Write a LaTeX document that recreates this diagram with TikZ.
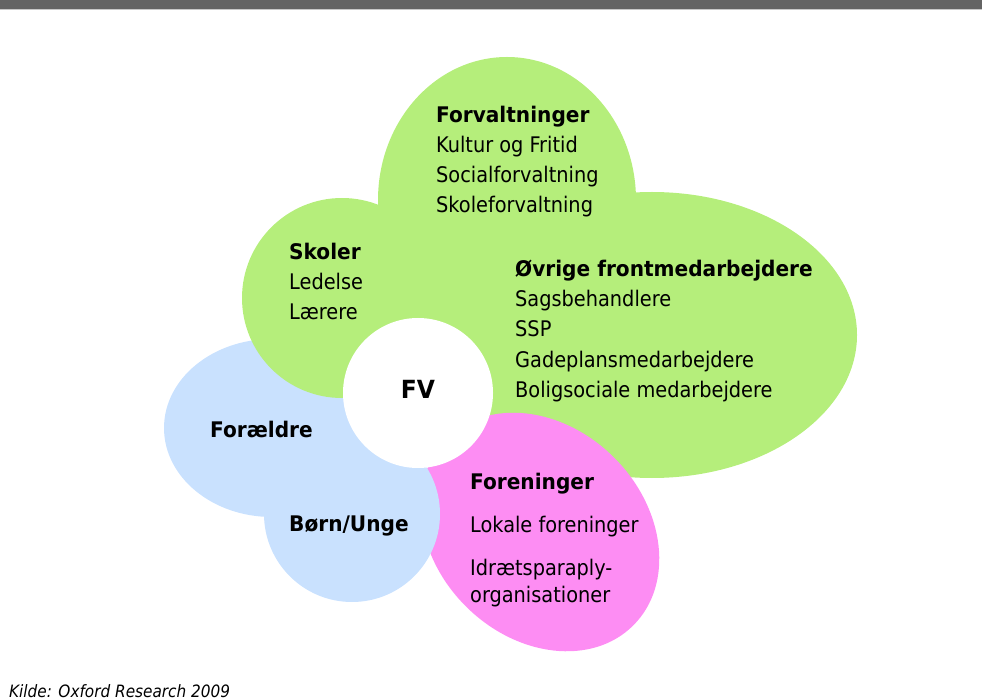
\documentclass[tikz,border=0pt]{standalone}
\usepackage{fontspec}
\setmainfont{DejaVuSansCondensed}[Extension=.ttf,
  BoldFont=DejaVuSansCondensed-Bold,
  BoldFeatures={FakeStretch=1.04},
  ItalicFont=DejaVuSansCondensed-Oblique,
  BoldItalicFont=DejaVuSansCondensed-BoldOblique]
\definecolor{leafgreen}{HTML}{B5EE7B}
\definecolor{skyblue}{HTML}{C9E1FE}
\definecolor{rosepink}{HTML}{FD8DF3}
\definecolor{bargray}{HTML}{646464}
\definecolor{rulegray}{HTML}{C8C8C8}
\tikzset{
  itemtext/.style={anchor=base west, inner sep=0pt, font=\fontsize{21.5}{26}\selectfont},
  headtext/.style={itemtext, font=\fontsize{21.5}{26}\selectfont\bfseries},
}
\begin{document}
\begin{tikzpicture}[x=1pt,y=-1pt]
        \useasboundingbox (0.000000,0.000000) rectangle (982.000000,700.000000);
        
        % Top bar
        \fill [bargray] (0.000000,0.000000) rectangle (982.000000,8.700000);%
        \fill [rulegray] (0.000000,8.700000) rectangle (982.000000,10.000000);%
        
        % Blob Foraeldre (under the green one)
        \fill [skyblue] (272.000000,428.000000) ellipse [x radius=108, y radius=89];%
        
        % Green blobs: Skoler, Forvaltninger, Ovrige
        \fill [leafgreen] (342.000000,298.000000) circle [radius=100];%
        \fill [leafgreen] (507.000000,200.000000) ellipse [x radius=129, y radius=143];%
        \fill [leafgreen] (652.000000,335.000000) ellipse [x radius=205, y radius=143];%
        
        % Blob Foreninger (tilted)
        \fill [rosepink, rotate around={-45:(540,532)}] (540.000000,532.000000) ellipse [x radius=132, y radius=105];%
        
        % Blob Born/Unge
        \fill [skyblue] (352.000000,514.000000) circle [radius=88];%
        
        % Centre circle FV
        \fill [white] (418.000000,393.000000) circle [radius=75];%
        \draw (418.000000,398.000000) node (fv) [headtext, anchor=base, font=\fontsize{25}{30}\selectfont\bfseries] {FV};%
        
        % Forvaltninger
        \draw (436.000000,123.000000) node (forvhead) [headtext] {Forvaltninger};%
        \draw (436.000000,153.000000) node (forvkultur) [itemtext] {Kultur og Fritid};%
        \draw (436.000000,183.000000) node (forvsocial) [itemtext] {Socialforvaltning};%
        \draw (436.000000,213.000000) node (forvskole) [itemtext] {Skoleforvaltning};%
        
        % Skoler
        \draw (289.000000,260.000000) node (skolhead) [headtext] {Skoler};%
        \draw (289.000000,290.000000) node (skolledelse) [itemtext] {Ledelse};%
        \draw (289.000000,320.000000) node (skollaerere) [itemtext] {Lærere};%
        
        % Ovrige frontmedarbejdere
        \draw (515.000000,277.000000) node (ovrhead) [headtext] {Øvrige frontmedarbejdere};%
        \draw (515.000000,307.000000) node (ovrsags) [itemtext] {Sagsbehandlere};%
        \draw (515.000000,337.000000) node (ovrssp) [itemtext] {SSP};%
        \draw (515.000000,367.000000) node (ovrgade) [itemtext] {Gadeplansmedarbejdere};%
        \draw (515.000000,397.000000) node (ovrbolig) [itemtext] {Boligsociale medarbejdere};%
        
        % Foraeldre and Born/Unge
        \draw (210.000000,437.000000) node (foraeldre) [headtext] {Forældre};%
        \draw (289.000000,531.000000) node (bornunge) [headtext] {Børn/Unge};%
        
        % Foreninger
        \draw (470.000000,489.000000) node (forenhead) [headtext] {Foreninger};%
        \draw (470.000000,532.000000) node (forenlokal) [itemtext] {Lokale foreninger};%
        \draw (470.000000,575.000000) node (forenidraet) [itemtext] {Idrætsparaply-};%
        \draw (470.000000,602.000000) node (forenorg) [itemtext] {organisationer};%
        
        % Source line
        \draw (9.000000,697.000000) node (kilde) [itemtext, font=\fontsize{17}{20}\selectfont\itshape] {Kilde: Oxford Research 2009};%
\end{tikzpicture}
\end{document}
